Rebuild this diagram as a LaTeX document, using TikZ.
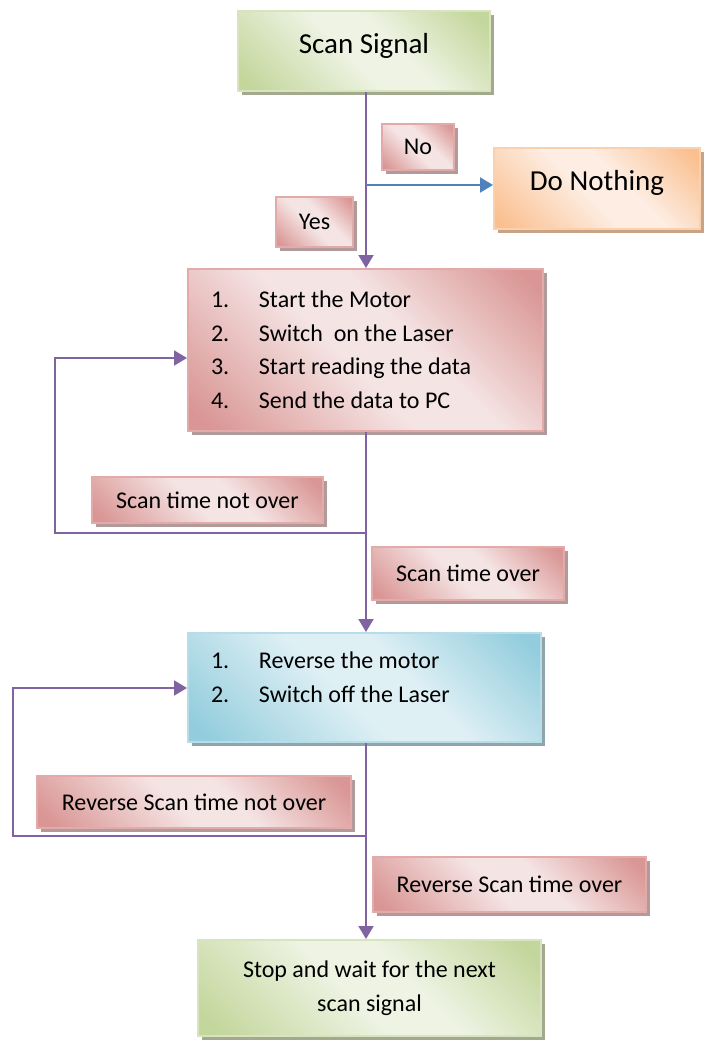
\documentclass[tikz,border=0pt]{standalone}
\usepackage{fontspec}
\setmainfont{Carlito}
\usetikzlibrary{arrows.meta,shadows,calc}

% fill, edge and shadow colours of the box styles
\definecolor{redDark}{HTML}{D99694}
\definecolor{redLight}{HTML}{F5E4E4}
\definecolor{redEdge}{HTML}{E3AAAA}
\definecolor{redShadow}{HTML}{B39A9A}
\definecolor{greenDark}{HTML}{C3D69B}
\definecolor{greenLight}{HTML}{EEF3E3}
\definecolor{greenEdge}{HTML}{D7E4BD}
\definecolor{greenShadow}{HTML}{A3A98F}
\definecolor{orangeDark}{HTML}{FAC090}
\definecolor{orangeLight}{HTML}{FDEDE2}
\definecolor{orangeEdge}{HTML}{FBD0AD}
\definecolor{orangeShadow}{HTML}{C8A386}
\definecolor{blueDark}{HTML}{93CDDD}
\definecolor{blueLight}{HTML}{DFF0F5}
\definecolor{blueEdge}{HTML}{B7DEE8}
\definecolor{blueShadow}{HTML}{8FA5AB}
\definecolor{flowPurple}{HTML}{8064A2}
\definecolor{flowBlue}{HTML}{4F81BD}

% diagonal dark-light-dark fills
\pgfdeclarehorizontalshading{redfill}{100bp}{color(0bp)=(redDark); color(18bp)=(redDark); color(46bp)=(redLight); color(58bp)=(redLight); color(82bp)=(redDark); color(100bp)=(redDark)}
\pgfdeclarehorizontalshading{greenfill}{100bp}{color(0bp)=(greenDark); color(18bp)=(greenDark); color(46bp)=(greenLight); color(58bp)=(greenLight); color(82bp)=(greenDark); color(100bp)=(greenDark)}
\pgfdeclarehorizontalshading{orangefill}{100bp}{color(0bp)=(orangeDark); color(18bp)=(orangeDark); color(46bp)=(orangeLight); color(58bp)=(orangeLight); color(82bp)=(orangeDark); color(100bp)=(orangeDark)}
\pgfdeclarehorizontalshading{bluefill}{100bp}{color(0bp)=(blueDark); color(18bp)=(blueDark); color(46bp)=(blueLight); color(58bp)=(blueLight); color(82bp)=(blueDark); color(100bp)=(blueDark)}

% numbered line inside a step box
\newcommand{\stepline}[2]{\makebox[48pt][l]{#1}#2}

\tikzset{
  box/.style={rectangle, line width=2pt, inner sep=0pt, text=black,
    font=\fontsize{24}{33.5}\selectfont, shading angle=45},
  big/.style={font=\fontsize{29}{35}\selectfont, text height=20pt, text depth=16pt},
  redbox/.style={box, draw=redEdge, shading=redfill,
    drop shadow={shadow xshift=4pt, shadow yshift=-4pt, fill=redShadow, opacity=1}},
  greenbox/.style={box, draw=greenEdge, shading=greenfill,
    drop shadow={shadow xshift=4pt, shadow yshift=-4pt, fill=greenShadow, opacity=1}},
  orangebox/.style={box, draw=orangeEdge, shading=orangefill,
    drop shadow={shadow xshift=4pt, shadow yshift=-4pt, fill=orangeShadow, opacity=1}},
  bluebox/.style={box, draw=blueEdge, shading=bluefill,
    drop shadow={shadow xshift=4pt, shadow yshift=-4pt, fill=blueShadow, opacity=1}},
  flow/.style={draw=flowPurple, line width=2pt,
    -{Triangle[length=13pt,width=15pt]}},
  flowno/.style={draw=flowBlue, line width=2pt,
    -{Triangle[length=13pt,width=15pt]}},
}

\begin{document}
\begin{tikzpicture}[x=1pt, y=-1pt]
\useasboundingbox (0,0) rectangle (707,1042);

% boxes
\node[greenbox, big, minimum width=252pt, minimum height=80pt] (scan) at (364,51) {Scan Signal};
\node[redbox, minimum width=72pt, minimum height=46pt] (no) at (418,147) {No};
\node[orangebox, big, minimum width=206pt, minimum height=81pt] (nothing) at (597,188.5) {Do Nothing};
\node[redbox, minimum width=77pt, minimum height=50pt] (yes) at (314.5,222) {Yes};

\node[redbox, text width=309pt, inner xsep=23pt, align=flush left, minimum height=162pt] (run) at (365.5,350)
  {\stepline{1.}{Start the Motor}\\
   \stepline{2.}{Switch\ \ on the Laser}\\
   \stepline{3.}{Start reading the data}\\
   \stepline{4.}{Send the data to PC}};

\node[redbox, minimum width=231pt, minimum height=46pt] (notover) at (207.5,500) {Scan time not over};
\node[redbox, minimum width=192pt, minimum height=53pt] (over) at (468,573.5) {Scan time over};

\node[bluebox, text width=307pt, inner xsep=23pt, align=flush left, minimum height=109pt] (back) at (364.5,687.5)
  {\stepline{1.}{Reverse the motor}\\
   \stepline{2.}{Switch off the Laser}\\[-12.5pt]
   \mbox{}};

\node[redbox, minimum width=314pt, minimum height=52pt] (revnotover) at (194,802) {Reverse Scan time not over};
\node[redbox, minimum width=273pt, minimum height=55pt] (revover) at (509.5,884.5) {Reverse Scan time over};

\node[greenbox, align=center, minimum width=343pt, minimum height=96pt] (stop) at (369.5,988)
  {Stop and wait for the next\\ scan signal};

% connector routing points
\coordinate (spine) at (366,0);
\coordinate (fork) at (366,185);
\coordinate (join1) at (366,533);
\coordinate (loop1) at (55,358);
\coordinate (join2) at (366,836);
\coordinate (loop2) at (13,688);

% connectors
\draw[flow] (scan.south -| spine) -- (run.north -| spine);
\draw[flowno] (fork) -- (nothing.west |- fork);
\draw[flow] (run.south -| spine) -- (back.north -| spine);
\draw[flow] (join1) -| (loop1) -- (run.west |- loop1);
\draw[flow] (back.south -| spine) -- (stop.north -| spine);
\draw[flow] (join2) -| (loop2) -- (back.west |- loop2);
\end{tikzpicture}
\end{document}
